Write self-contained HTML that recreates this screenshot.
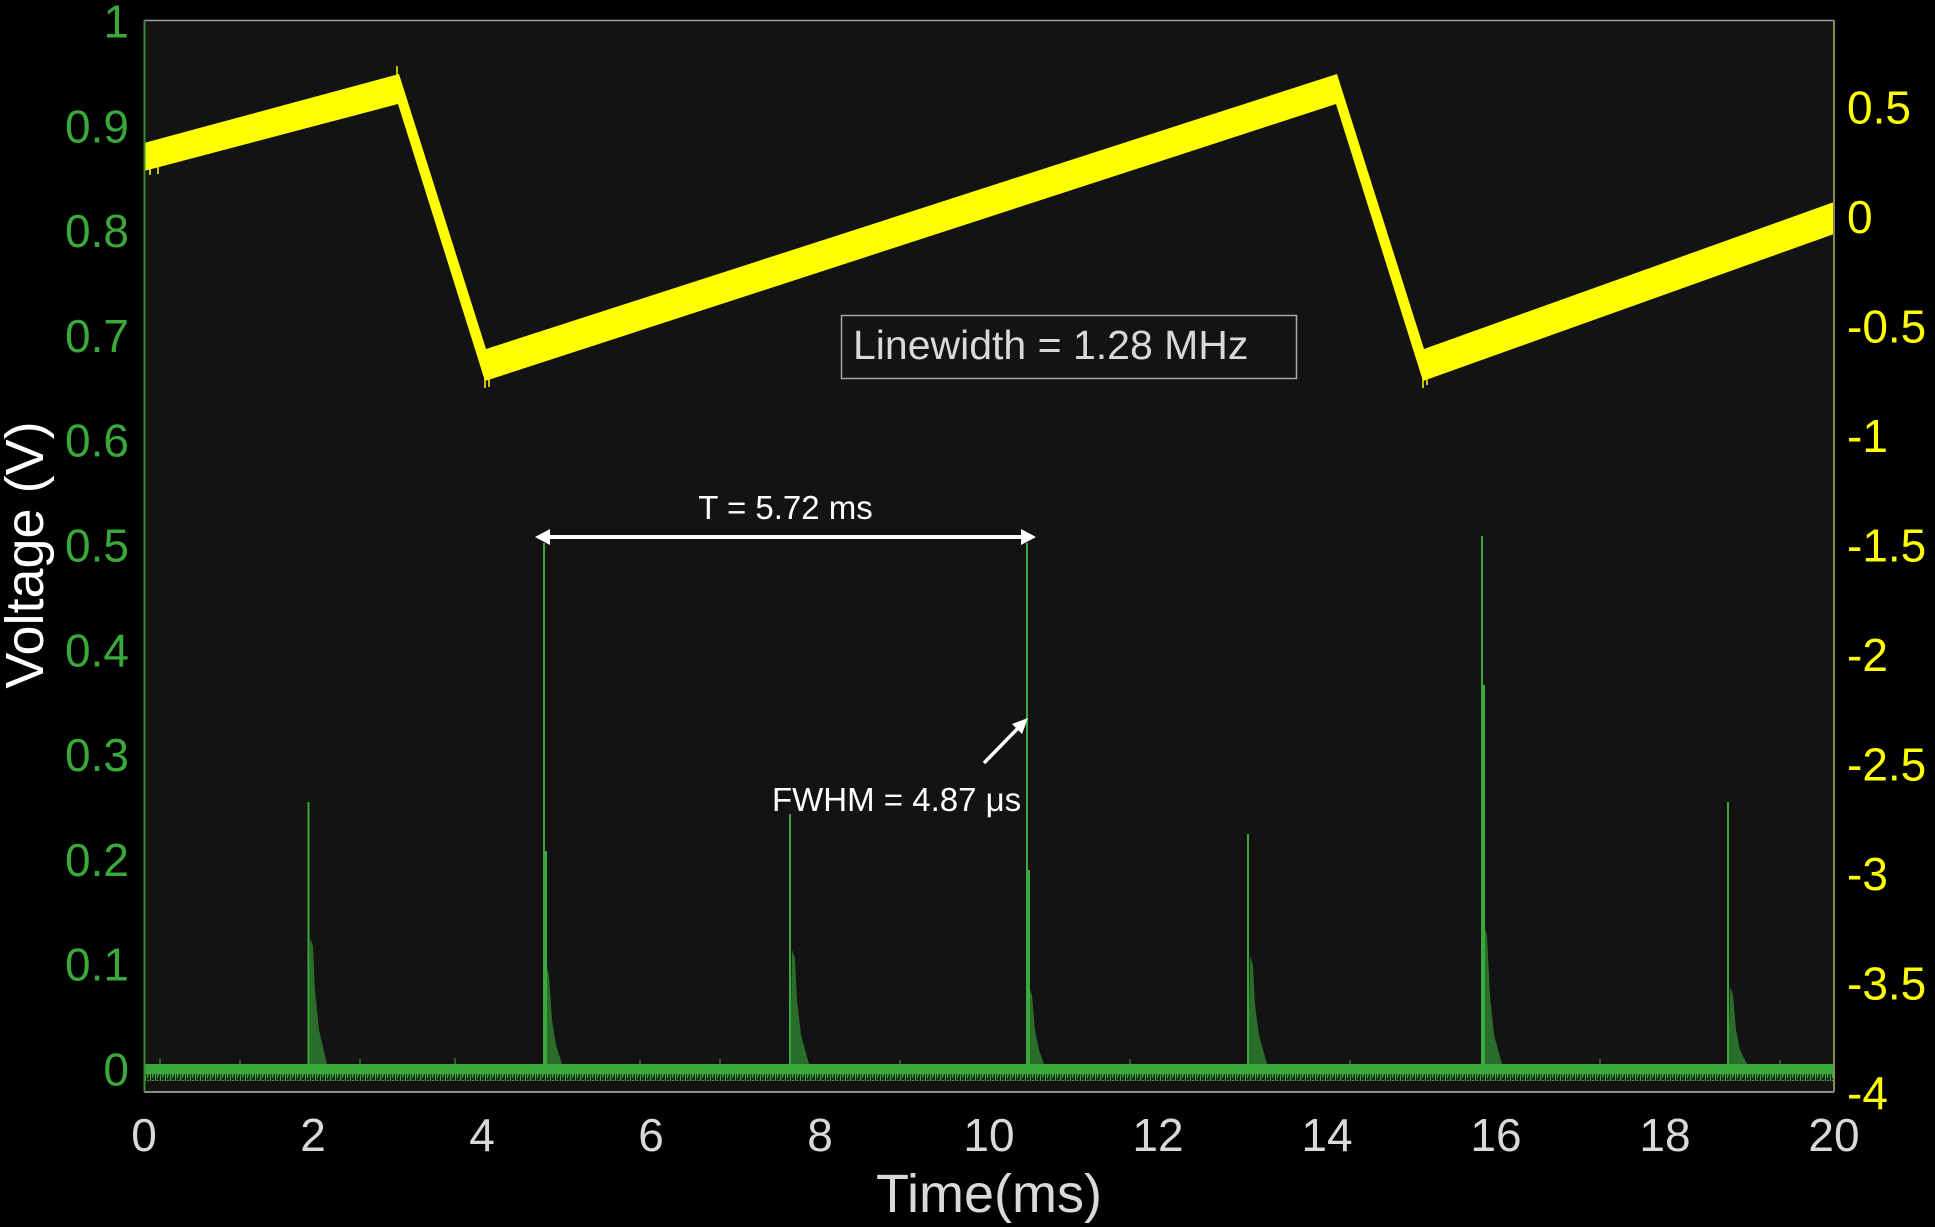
<!DOCTYPE html>
<html>
<head>
<meta charset="utf-8">
<style>
html,body{margin:0;padding:0;background:#000;}
svg{display:block;}
text{font-family:"Liberation Sans",Arial,sans-serif;}
</style>
</head>
<body>
<svg width="1935" height="1227" viewBox="0 0 1935 1227" xmlns="http://www.w3.org/2000/svg">
<defs>
<pattern id="noise" x="0" y="0" width="5" height="8" patternUnits="userSpaceOnUse">
<rect x="0" y="0" width="5" height="8" fill="#1a2a1a"/>
<rect x="0" y="0" width="1" height="8" fill="#3aa83a"/>
<rect x="2" y="0" width="1" height="6" fill="#3aa83a"/>
<rect x="3" y="0" width="1" height="4" fill="#2f8a2f"/>
</pattern>
</defs>
<rect x="0" y="0" width="1935" height="1227" fill="#000"/>
<!-- plot area -->
<rect x="144" y="20" width="1690" height="1072" fill="#131313"/>

<!-- yellow sawtooth band -->
<polygon fill="#ffff00" points="144,143 399,74 486,349 1337,74 1424,349 1834,202 1834,234 1423,381 1336,104 485,381 398,104 144,171"/>
<!-- small jagged ticks on yellow -->
<g stroke="#ffff00" stroke-width="1.5">
<line x1="150" y1="160" x2="150" y2="175"/><line x1="158" y1="160" x2="158" y2="174"/>
<line x1="485" y1="370" x2="485" y2="388"/><line x1="489" y1="370" x2="489" y2="387"/>
<line x1="1423" y1="370" x2="1423" y2="388"/><line x1="1427" y1="370" x2="1427" y2="385"/>
<line x1="397" y1="66" x2="397" y2="80"/>
</g>

<!-- green baseline -->
<rect x="144" y="1064" width="1690" height="10" fill="#3aa83a"/>
<rect x="144" y="1074" width="1690" height="7" fill="url(#noise)"/>
<g stroke="#3aa83a" stroke-width="1">
<line x1="160" y1="1058" x2="160" y2="1064"/><line x1="240" y1="1060" x2="240" y2="1064"/>
<line x1="360" y1="1059" x2="360" y2="1064"/><line x1="455" y1="1058" x2="455" y2="1064"/>
<line x1="640" y1="1060" x2="640" y2="1064"/><line x1="720" y1="1059" x2="720" y2="1064"/>
<line x1="900" y1="1060" x2="900" y2="1064"/><line x1="1130" y1="1059" x2="1130" y2="1064"/>
<line x1="1350" y1="1060" x2="1350" y2="1064"/><line x1="1600" y1="1059" x2="1600" y2="1064"/>
<line x1="1780" y1="1060" x2="1780" y2="1064"/>
</g>

<!-- green peaks -->
<g fill="#3aa83a" fill-opacity="0.6" stroke="none">
<polygon points="308,1064 310,938 313,946 315,990 319,1030 327,1064"/>
<polygon points="544,1064 546,963 549,975 552,1020 556,1045 562,1064"/>
<polygon points="790,1064 792,950 795,958 797,1000 801,1035 809,1064"/>
<polygon points="1027,1064 1029,987 1032,995 1035,1030 1039,1050 1044,1064"/>
<polygon points="1248,1064 1250,956 1253,965 1255,1005 1259,1035 1267,1064"/>
<polygon points="1482,1064 1484,925 1487,935 1490,995 1494,1035 1502,1064"/>
<polygon points="1728,1064 1730,987 1733,995 1736,1030 1740,1050 1747,1064"/>
</g>
<g stroke="#3aa83a" stroke-width="2">
<line x1="308.5" y1="1064" x2="308.5" y2="802"/>
<line x1="544" y1="1064" x2="544" y2="543"/>
<line x1="546" y1="1064" x2="546" y2="851"/>
<line x1="790" y1="1064" x2="790" y2="814"/>
<line x1="1027" y1="1064" x2="1027" y2="543"/>
<line x1="1029" y1="1064" x2="1029" y2="870"/>
<line x1="1248" y1="1064" x2="1248" y2="834"/>
<line x1="1482" y1="1064" x2="1482" y2="536"/>
<line x1="1484" y1="1064" x2="1484" y2="685"/>
<line x1="1728" y1="1064" x2="1728" y2="802"/>
</g>

<!-- plot borders -->
<line x1="144" y1="20.5" x2="1834" y2="20.5" stroke="#a0a0a0" stroke-width="1.5"/>
<line x1="144" y1="1092" x2="1834" y2="1092" stroke="#8c8c8c" stroke-width="2"/>
<line x1="144.5" y1="20" x2="144.5" y2="1092" stroke="#3a8a3a" stroke-width="2"/>
<line x1="1834" y1="20" x2="1834" y2="1092" stroke="#8a8a50" stroke-width="2"/>

<!-- annotation box -->
<rect x="841.5" y="315.5" width="455" height="63" fill="none" stroke="#a6a6a6" stroke-width="1.5"/>
<text x="853" y="359" font-size="41" fill="#d9d9d9">Linewidth = 1.28 MHz</text>

<!-- T arrow -->
<line x1="545" y1="537" x2="1026" y2="537" stroke="#ffffff" stroke-width="4"/>
<polygon points="535,537 550,529 550,545" fill="#ffffff"/>
<polygon points="1036,537 1021,529 1021,545" fill="#ffffff"/>
<text x="785.5" y="519" font-size="33" fill="#ffffff" text-anchor="middle">T = 5.72 ms</text>

<!-- FWHM arrow -->
<line x1="984" y1="763" x2="1020" y2="726" stroke="#ffffff" stroke-width="3.5"/>
<polygon points="1028,718 1022,734 1012,724" fill="#ffffff"/>
<text x="772" y="811" font-size="33" fill="#ffffff">FWHM = 4.87 μs</text>

<!-- left axis labels -->
<g font-size="46" fill="#3aa83a" text-anchor="end">
<text x="129" y="37.5">1</text>
<text x="129" y="142.3">0.9</text>
<text x="129" y="247.1">0.8</text>
<text x="129" y="351.9">0.7</text>
<text x="129" y="456.7">0.6</text>
<text x="129" y="561.5">0.5</text>
<text x="129" y="666.3">0.4</text>
<text x="129" y="771.1">0.3</text>
<text x="129" y="875.9">0.2</text>
<text x="129" y="980.7">0.1</text>
<text x="129" y="1085.5">0</text>
</g>

<!-- right axis labels -->
<g font-size="46" fill="#ffff00">
<text x="1847" y="123.5">0.5</text>
<text x="1847" y="233">0</text>
<text x="1847" y="342.5">-0.5</text>
<text x="1847" y="452">-1</text>
<text x="1847" y="561.5">-1.5</text>
<text x="1847" y="671">-2</text>
<text x="1847" y="780.5">-2.5</text>
<text x="1847" y="890">-3</text>
<text x="1847" y="999.5">-3.5</text>
<text x="1847" y="1109">-4</text>
</g>

<!-- x axis labels -->
<g font-size="46" fill="#d9d9d9" text-anchor="middle">
<text x="144" y="1151">0</text>
<text x="313" y="1151">2</text>
<text x="482" y="1151">4</text>
<text x="651" y="1151">6</text>
<text x="820" y="1151">8</text>
<text x="989" y="1151">10</text>
<text x="1158" y="1151">12</text>
<text x="1327" y="1151">14</text>
<text x="1496" y="1151">16</text>
<text x="1665" y="1151">18</text>
<text x="1834" y="1151">20</text>
</g>

<text x="989" y="1212" font-size="54" fill="#d9d9d9" text-anchor="middle">Time(ms)</text>
<text transform="translate(43,555) rotate(-90)" font-size="54" fill="#ffffff" text-anchor="middle">Voltage (V)</text>
</svg>
</body>
</html>
